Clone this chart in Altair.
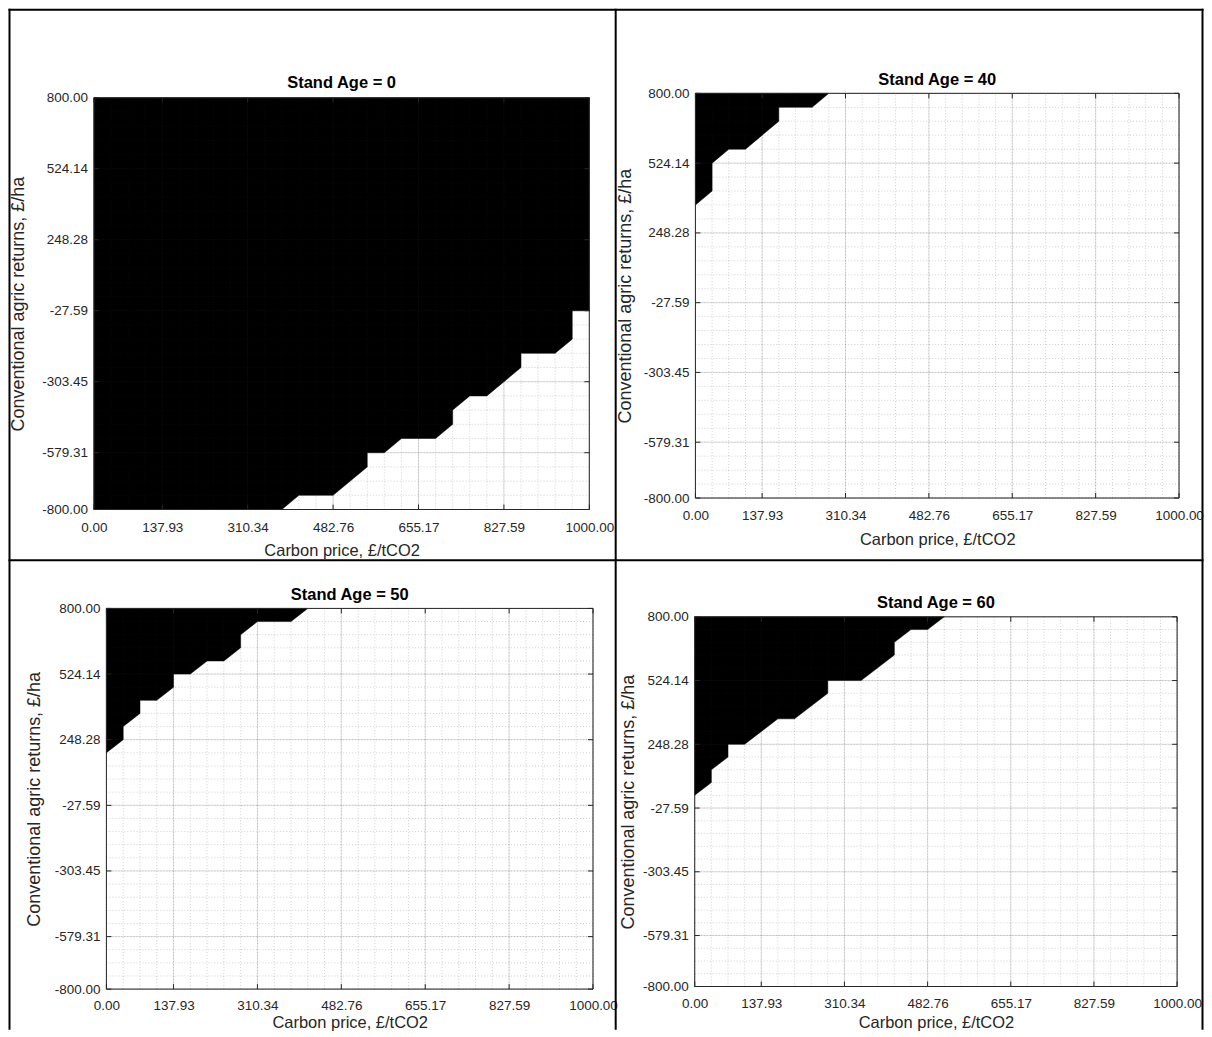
import altair as alt
import pandas as pd

# ---------------- data ----------------
X_TICKS = [0.00, 137.93, 310.34, 482.76, 655.17, 827.59, 1000.00]
Y_TICKS = [-800.00, -579.31, -303.45, -27.59, 248.28, 524.14, 800.00]
X_DOMAIN = [0, 1000]
Y_DOMAIN = [-800, 800]
N_GRID = 30  # evaluation grid points per axis (minor grid lines)

TITLES = ["Stand Age = 0", "Stand Age = 40", "Stand Age = 50", "Stand Age = 60"]
X_TITLE = "Carbon price, £/tCO2"
Y_TITLE = "Conventional agric returns, £/ha"

# boundary of the black region (region lies above the boundary)
AGE0_X = [0.00, 379.31, 413.79, 482.76, 551.72, 551.72, 586.21, 620.69, 689.66, 724.14,
          724.14, 758.62, 793.10, 862.07, 862.07, 931.03, 965.52, 965.52, 1000.00]
AGE0_Y = [-800.00, -800.00, -744.83, -744.83, -634.48, -579.31, -579.31, -524.14, -524.14, -468.97,
          -413.79, -358.62, -358.62, -248.28, -193.10, -193.10, -137.93, -27.59, -27.59]

AGE40_X = [0.00, 34.48, 34.48, 68.97, 103.45, 172.41, 172.41, 241.38, 275.86]
AGE40_Y = [358.62, 413.79, 524.14, 579.31, 579.31, 689.66, 744.83, 744.83, 800.00]

AGE50_X = [0.00, 34.48, 34.48, 68.97, 68.97, 103.45, 137.93, 137.93, 172.41, 206.90,
           241.38, 275.86, 275.86, 310.34, 379.31, 413.79]
AGE50_Y = [193.10, 248.28, 303.45, 358.62, 413.79, 413.79, 468.97, 524.14, 524.14, 579.31,
           579.31, 634.48, 689.66, 744.83, 744.83, 800.00]

AGE60_X = [0.00, 34.48, 34.48, 68.97, 68.97, 103.45, 172.41, 206.90, 275.86, 275.86,
           344.83, 413.79, 413.79, 448.28, 482.76, 517.24]
AGE60_Y = [27.59, 82.76, 137.93, 193.10, 248.28, 248.28, 358.62, 358.62, 468.97, 524.14,
           524.14, 634.48, 689.66, 744.83, 744.83, 800.00]

BOUNDARIES = [(AGE0_X, AGE0_Y), (AGE40_X, AGE40_Y), (AGE50_X, AGE50_Y), (AGE60_X, AGE60_Y)]

X_MINOR = [X_DOMAIN[0] + i * (X_DOMAIN[1] - X_DOMAIN[0]) / (N_GRID - 1) for i in range(N_GRID)]
Y_MINOR = [Y_DOMAIN[0] + i * (Y_DOMAIN[1] - Y_DOMAIN[0]) / (N_GRID - 1) for i in range(N_GRID)]

# ---------------- layout / style ----------------
FONT = "Liberation Sans"
AX = "#262626"
VIEW_W, VIEW_H = 500, 416.5
TICK_LEN = 5
LABEL_SIZE = 13.5
XTITLE_SIZE = 16.5
YTITLE_SIZE = 18
TITLE_SIZE = 16.5
LABEL_EXPR = "replace(format(datum.value, '.2f'), '\u2212', '-')"

GEOM = [
    dict(dx=0.0, dy=4.4, w=495.8, h=412.1, tcy=-10.5, xlp=18, xty=41.5, ytx=-75.5),
    dict(dx=0.7, dy=0.0, w=484.0, h=405.0, tcy=-13.5, xlp=18, xty=41.5, ytx=-70.1),
    dict(dx=12.5, dy=0.0, w=487.0, h=381.0, tcy=-13.5, xlp=16.7, xty=33.2, ytx=-72.4),
    dict(dx=0.0, dy=8.4, w=482.8, h=370.0, tcy=-5.0, xlp=16.7, xty=35.8, ytx=-65.8),
]

# frame bars (x, x2, y, y2) relative to the last panel's view origin
FRAME = [
    (-686.8, -684.8, -600.3, 421.7),   # left edge
    (507.2, 509.2, -600.3, 421.7),     # right edge
    (-80.1, -78.1, -600.3, 421.7),     # vertical divider
    (-686.8, 509.2, -600.3, -598.3),   # top edge
    (-686.8, 509.2, -49.3, -47.3),     # horizontal divider
]


def panel(k):
    g = GEOM[k]
    bx, by = BOUNDARIES[k]
    xs = alt.Scale(domain=X_DOMAIN, range=[g["dx"], g["dx"] + g["w"]], nice=False, zero=False)
    ys = alt.Scale(domain=Y_DOMAIN, range=[g["dy"] + g["h"], g["dy"]], nice=False, zero=False)
    bottom_px = g["dy"] + g["h"]
    right_px = g["dx"] + g["w"]

    common = dict(grid=False, ticks=False, domain=False, labelFlush=False, labelOverlap=False,
                  labelExpr=LABEL_EXPR, labelFont=FONT, labelFontSize=LABEL_SIZE, labelColor=AX,
                  titleFont=FONT, titleColor=AX, titleFontWeight="normal", titleBaseline="middle")
    xaxis = alt.Axis(values=X_TICKS, title=X_TITLE, labelPadding=g["xlp"], labelBaseline="middle",
                     offset=-(VIEW_H - bottom_px), titleY=g["xty"], titleFontSize=XTITLE_SIZE, **common)
    yaxis = alt.Axis(values=Y_TICKS, title=Y_TITLE, labelPadding=6.5, offset=-g["dx"],
                     titleX=g["ytx"], titleFontSize=YTITLE_SIZE, **common)

    def X(field):
        return alt.X(field, scale=xs, axis=xaxis)

    def Y(field):
        return alt.Y(field, scale=ys, axis=yaxis)

    region = pd.DataFrame({"cx": bx, "cy": by, "top": [Y_DOMAIN[1]] * len(bx)})
    area = alt.Chart(region).mark_area(fill="#000000", stroke="#000000", strokeWidth=0.5).encode(
        x=X("cx:Q"), y=Y("cy:Q"), y2=alt.Y2("top"))

    def vlines(vals, opacity, dash):
        df = pd.DataFrame({"v": vals, "lo": Y_DOMAIN[0], "hi": Y_DOMAIN[1]})
        kw = dict(stroke=AX, strokeOpacity=opacity, strokeWidth=1)
        if dash:
            kw["strokeDash"] = dash
        return alt.Chart(df).mark_rule(**kw).encode(x=X("v:Q"), y=Y("lo:Q"), y2="hi:Q")

    def hlines(vals, opacity, dash):
        df = pd.DataFrame({"v": vals, "lo": X_DOMAIN[0], "hi": X_DOMAIN[1]})
        kw = dict(stroke=AX, strokeOpacity=opacity, strokeWidth=1)
        if dash:
            kw["strokeDash"] = dash
        return alt.Chart(df).mark_rule(**kw).encode(y=Y("v:Q"), x=X("lo:Q"), x2="hi:Q")

    minor_v = vlines(X_MINOR, 0.22, [1, 2])
    minor_h = hlines(Y_MINOR, 0.22, [1, 2])
    major_v = vlines(X_TICKS, 0.14, None)
    major_h = hlines(Y_TICKS, 0.14, None)

    xt = pd.DataFrame({"v": X_TICKS})
    yt = pd.DataFrame({"v": Y_TICKS})
    tick_kw = dict(stroke=AX, strokeWidth=1)
    t_bottom = alt.Chart(xt).mark_rule(**tick_kw).encode(
        x=X("v:Q"), y=alt.value(bottom_px), y2=alt.value(bottom_px - TICK_LEN))
    t_top = alt.Chart(xt).mark_rule(**tick_kw).encode(
        x=X("v:Q"), y=alt.value(g["dy"]), y2=alt.value(g["dy"] + TICK_LEN))
    t_left = alt.Chart(yt).mark_rule(**tick_kw).encode(
        y=Y("v:Q"), x=alt.value(g["dx"]), x2=alt.value(g["dx"] + TICK_LEN))
    t_right = alt.Chart(yt).mark_rule(**tick_kw).encode(
        y=Y("v:Q"), x=alt.value(right_px - TICK_LEN), x2=alt.value(right_px))

    boxdf = pd.DataFrame({"x0": [X_DOMAIN[0]], "x1": [X_DOMAIN[1]], "y0": [Y_DOMAIN[0]], "y1": [Y_DOMAIN[1]]})
    box = alt.Chart(boxdf).mark_rect(filled=False, stroke=AX, strokeWidth=1).encode(
        x=X("x0:Q"), x2="x1:Q", y=Y("y0:Q"), y2="y1:Q")

    one = pd.DataFrame({"a": [0]})
    title = alt.Chart(one).mark_text(
        text=TITLES[k], font=FONT, fontSize=TITLE_SIZE, fontWeight="bold", color="#000000",
        align="center", baseline="middle").encode(
        x=alt.value(g["dx"] + g["w"] / 2), y=alt.value(g["tcy"]))

    layers = [area, minor_v, minor_h, major_v, major_h, t_bottom, t_top, t_left, t_right, box, title]

    if k == 3:
        for (x1, x2, y1, y2) in FRAME:
            layers.append(alt.Chart(one).mark_rect(fill="#000000", strokeWidth=0).encode(
                x=alt.value(x1), x2=alt.value(x2), y=alt.value(y1), y2=alt.value(y2)))

    return alt.layer(*layers).properties(width=VIEW_W, height=VIEW_H)


chart = alt.concat(
    panel(0), panel(1), panel(2), panel(3),
    columns=2,
    spacing=alt.RowColnumber(row=98.5, column=101.3),
    bounds="flush",
).properties(padding=0).configure_view(strokeWidth=0)

chart.save("out.html", embed_options={"renderer": "svg", "actions": False})
